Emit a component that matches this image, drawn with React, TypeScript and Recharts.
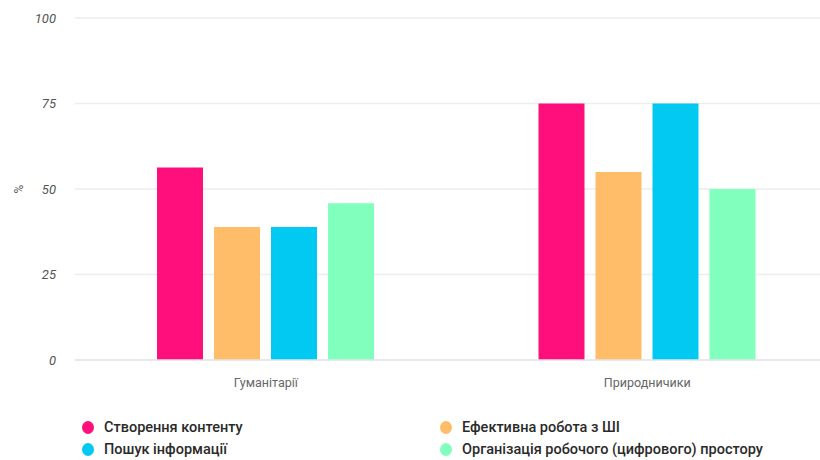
import { BarChart, Bar, XAxis, YAxis, CartesianGrid, Legend } from "recharts";

const groups = ["Гуманітарії", "Природничики"];

const contentCreation = [56.3, 75];
const aiWork = [38.9, 55];
const infoSearch = [38.9, 75];
const workspace = [45.8, 50];

const yTicks = [0, 25, 50, 75, 100];

const series = [
  { key: "content", name: "Створення контенту", color: "#ff0f7b", values: contentCreation },
  { key: "ai", name: "Ефективна робота з ШІ", color: "#ffbd69", values: aiWork },
  { key: "search", name: "Пошук інформації", color: "#02c9f1", values: infoSearch },
  { key: "space", name: "Організація робочого (цифрового) простору", color: "#80ffbd", values: workspace },
];

const data = groups.map((group, i) => {
  const row: Record<string, string | number> = { group };
  series.forEach((s) => {
    row[s.key] = s.values[i];
  });
  return row;
});

// two-column legend, row-major like the series order
function LegendGrid() {
  return (
    <div
      style={{
        height: 70,
        paddingTop: 28,
        paddingLeft: 82,
        boxSizing: "border-box",
        display: "grid",
        gridTemplateColumns: "358px 358px",
        rowGap: 3,
        fontFamily: "Roboto, sans-serif",
        fontSize: 14.5,
        fontWeight: 500,
        color: "#2a2a2a",
      }}
    >
      {series.map((s) => (
        <div key={s.key} style={{ display: "flex", alignItems: "center", height: 18 }}>
          <span
            style={{
              width: 12,
              height: 13,
              borderRadius: "50%",
              background: s.color,
              marginRight: 10,
              flexShrink: 0,
            }}
          />
          <span>{s.name}</span>
        </div>
      ))}
    </div>
  );
}

export default function App() {
  return (
    <div
      style={{
        position: "absolute",
        left: 0,
        top: 0,
        width: 820,
        height: 460,
        overflow: "hidden",
        background: "#fff",
      }}
    >
      <BarChart
        width={860}
        height={460}
        data={data}
        margin={{ top: 18, right: 22, left: 15, bottom: 0 }}
        barSize={46}
        barGap={11}
      >
        <CartesianGrid vertical={false} stroke="#ededed" strokeWidth={1.6} />
        <XAxis
          dataKey="group"
          tickLine={false}
          axisLine={{ stroke: "#e3e6eb", strokeWidth: 1.6 }}
          tickMargin={12}
          tick={{ fill: "#666", fontSize: 12.5, fontFamily: "Roboto, sans-serif" }}
        />
        <YAxis
          domain={[0, 100]}
          ticks={yTicks}
          tickLine={false}
          axisLine={false}
          tickMargin={13}
          tick={{
            fill: "#555",
            fontSize: 13,
            fontStyle: "italic",
            fontFamily: "Roboto, sans-serif",
          }}
          label={{
            value: "%",
            content: ({ viewBox }: any) => {
              const cx = viewBox.x + 4;
              const cy = viewBox.y + viewBox.height / 2;
              return (
                <text
                  x={cx}
                  y={cy}
                  transform={`rotate(-90 ${cx} ${cy})`}
                  textAnchor="middle"
                  dominantBaseline="central"
                  fill="#555"
                  fontSize={12}
                  fontFamily="Roboto, sans-serif"
                >
                  %
                </text>
              );
            },
          }}
        />
        <Legend
          verticalAlign="bottom"
          content={() => <LegendGrid />}
          wrapperStyle={{ left: 0, width: 820, height: 70 }}
        />
        {series.map((s) => (
          <Bar
            key={s.key}
            dataKey={s.key}
            name={s.name}
            fill={s.color}
            isAnimationActive={false}
          />
        ))}
      </BarChart>
    </div>
  );
}
